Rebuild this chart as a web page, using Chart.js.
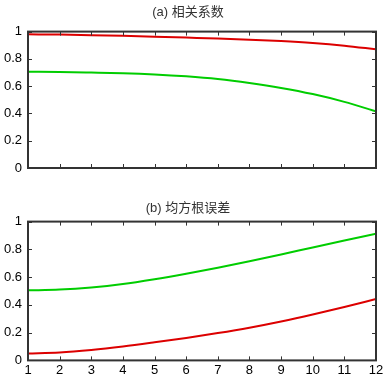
<!DOCTYPE html>
<html>
<head>
<meta charset="UTF-8" />
<script src="https://cdn.jsdelivr.net/npm/chart.js"></script>
<style>
  body { margin: 0; background: #fff; overflow: hidden; }
  .panel { position: absolute; left: 0; width: 387px; }
</style>
</head>
<body>
  <div class="panel" style="top:0;height:190px"><canvas id="chartA"></canvas></div>
  <div class="panel" style="top:190px;height:190px"><canvas id="chartB"></canvas></div>
  <script>
    // lead time (months)
    const months = [1, 2, 3, 4, 5, 6, 7, 8, 9, 10, 11, 12];
    const yTicks = [0, 0.2, 0.4, 0.6, 0.8, 1];

    // (a) correlation
    const corrRed   = [0.980, 0.978, 0.974, 0.969, 0.963, 0.956, 0.949, 0.941, 0.931, 0.917, 0.897, 0.870];
    const corrGreen = [0.705, 0.704, 0.700, 0.695, 0.686, 0.672, 0.652, 0.623, 0.587, 0.542, 0.485, 0.415];

    // (b) RMSE
    const rmseGreen = [0.505, 0.510, 0.525, 0.550, 0.585, 0.625, 0.668, 0.714, 0.763, 0.814, 0.864, 0.912];
    const rmseRed   = [0.050, 0.057, 0.075, 0.100, 0.130, 0.162, 0.197, 0.236, 0.281, 0.331, 0.385, 0.442];

    const RED = 'rgb(220,0,0)';
    const GREEN = 'rgb(0,205,0)';

    // axis box with inward ticks on all four sides
    const boxTicks = {
      id: 'boxTicks',
      afterDatasetsDraw(chart) {
        const ctx = chart.ctx;
        const a = chart.chartArea;
        const xs = chart.scales.x, ys = chart.scales.y;
        ctx.save();
        ctx.strokeStyle = '#333';
        ctx.lineWidth = 1;
        ctx.beginPath();
        months.forEach(m => {
          const px = Math.round(xs.getPixelForValue(m)) + 0.5;
          ctx.moveTo(px, a.bottom); ctx.lineTo(px, a.bottom - 4);
          ctx.moveTo(px, a.top); ctx.lineTo(px, a.top + 4);
        });
        yTicks.forEach(v => {
          const py = Math.round(ys.getPixelForValue(v)) + 0.5;
          ctx.moveTo(a.left, py); ctx.lineTo(a.left + 4, py);
          ctx.moveTo(a.right, py); ctx.lineTo(a.right - 4, py);
        });
        ctx.stroke();
        ctx.lineWidth = 2;
        ctx.strokeRect(a.left, a.top, a.right - a.left, a.bottom - a.top);
        ctx.restore();
      }
    };

    function makeChart(id, title, series, showX, titlePad) {
      return new Chart(document.getElementById(id), {
        type: 'line',
        data: {
          labels: months,
          datasets: series.map(s => ({
            data: s.data,
            borderColor: s.color,
            borderWidth: 2,
            pointRadius: 0,
            cubicInterpolationMode: 'monotone',
            fill: false
          }))
        },
        options: {
          responsive: true,
          maintainAspectRatio: false,
          animation: false,
          layout: { padding: { top: 2, right: 11, left: 0, bottom: showX ? 0 : 22 } },
          plugins: {
            legend: { display: false },
            tooltip: { enabled: false },
            title: {
              display: true,
              text: title,
              color: '#333',
              font: { family: 'Arial, "Noto Sans CJK SC", sans-serif', size: 13, weight: 'normal' },
              padding: titlePad
            }
          },
          scales: {
            x: {
              type: 'linear',
              min: 1, max: 12,
              grid: { display: false, drawTicks: false },
              border: { display: false },
              ticks: {
                display: showX,
                stepSize: 1,
                padding: 2,
                color: '#000',
                font: { family: 'Arial, "Liberation Sans", sans-serif', size: 13 }
              }
            },
            y: {
              min: 0, max: 1,
              afterFit(scale) { scale.width = 28; },
              grid: { display: false, drawTicks: false },
              border: { display: false },
              ticks: {
                stepSize: 0.2,
                padding: 6,
                color: '#000',
                font: { family: 'Arial, "Liberation Sans", sans-serif', size: 13 },
                callback: v => String(Number(v.toFixed(1)))
              }
            }
          }
        },
        plugins: [boxTicks]
      });
    }

    makeChart('chartA', '(a) 相关系数', [
      { data: corrRed, color: RED },
      { data: corrGreen, color: GREEN }
    ], false, { top: 3, bottom: 11 });

    makeChart('chartB', '(b) 均方根误差', [
      { data: rmseGreen, color: GREEN },
      { data: rmseRed, color: RED }
    ], true, { top: 9, bottom: 5 });
  </script>
</body>
</html>
